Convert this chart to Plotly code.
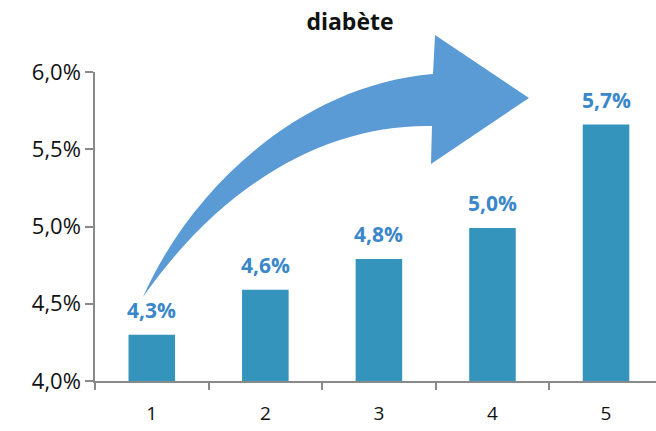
import plotly.graph_objects as go

categories = ["1", "2", "3", "4", "5"]
values = [4.30, 4.59, 4.79, 4.99, 5.66]
y_ticks = [4.0, 4.5, 5.0, 5.5, 6.0]
title_text = "diabète"

W, H = 656, 431
L, R, T, B = 95, 0, 72, 50

def px(x, y):
    # convert pixel position to paper coordinates (decoration only)
    return (x - L) / (W - L - R), (H - B - y) / (H - T - B)

def pt(x, y):
    a, b = px(x, y)
    return f"{a:.4f},{b:.4f}"

arrow_path = (
    f"M {pt(143,297)} "
    f"C {pt(190,190)} {pt(300,85)} {pt(433,74)} "
    f"L {pt(435,35)} L {pt(529,98)} L {pt(431,164)} L {pt(432,126)} "
    f"C {pt(330,124)} {pt(225,180)} {pt(143,297)} Z"
)

def fmt(v):
    return f"{v:.1f}%".replace(".", ",")

fig = go.Figure()
fig.add_trace(go.Bar(
    x=categories, y=values, width=0.41,
    marker=dict(color="#3594BC", line=dict(width=0)),
    hoverinfo="skip",
))

for i, v in enumerate(values):
    fig.add_annotation(
        x=i, y=v, text=f"<b>{fmt(v)}</b>",
        showarrow=False, yanchor="middle", yshift=25,
        font=dict(family="Open Sans", size=21, color="#3A87C9"),
    )

fig.add_shape(type="path", xref="paper", yref="paper", path=arrow_path,
              fillcolor="#5B9BD5", line=dict(width=0), layer="above")

fig.update_layout(
    width=W, height=H,
    margin=dict(l=L, r=R, t=T, b=B),
    paper_bgcolor="white", plot_bgcolor="white",
    showlegend=False,
    title=dict(text=f"<b>{title_text}</b>", x=350 / W, xanchor="center",
               y=1 - 22 / H, yanchor="middle",
               font=dict(family="Open Sans", size=23, color="#111111")),
)
fig.update_xaxes(
    type="category", range=[-0.5, 4.44],
    showline=True, linecolor="#898989", linewidth=1.5,
    ticks="outside", tickson="boundaries", ticklen=7, tickcolor="#898989", tickwidth=1.5,
    showgrid=False, zeroline=False, ticklabelstandoff=14,
    tickfont=dict(family="Open Sans", size=19, color="#111111"),
)
fig.update_yaxes(
    range=[4.0, 6.0], tickmode="array", tickvals=y_ticks,
    ticktext=[fmt(t) for t in y_ticks],
    showline=True, linecolor="#898989", linewidth=1.5,
    ticks="outside", ticklen=8, tickcolor="#898989", tickwidth=1.5,
    showgrid=False, zeroline=False,
    tickfont=dict(family="Open Sans", size=22, color="#111111"),
)

fig.write_html("out.html")
